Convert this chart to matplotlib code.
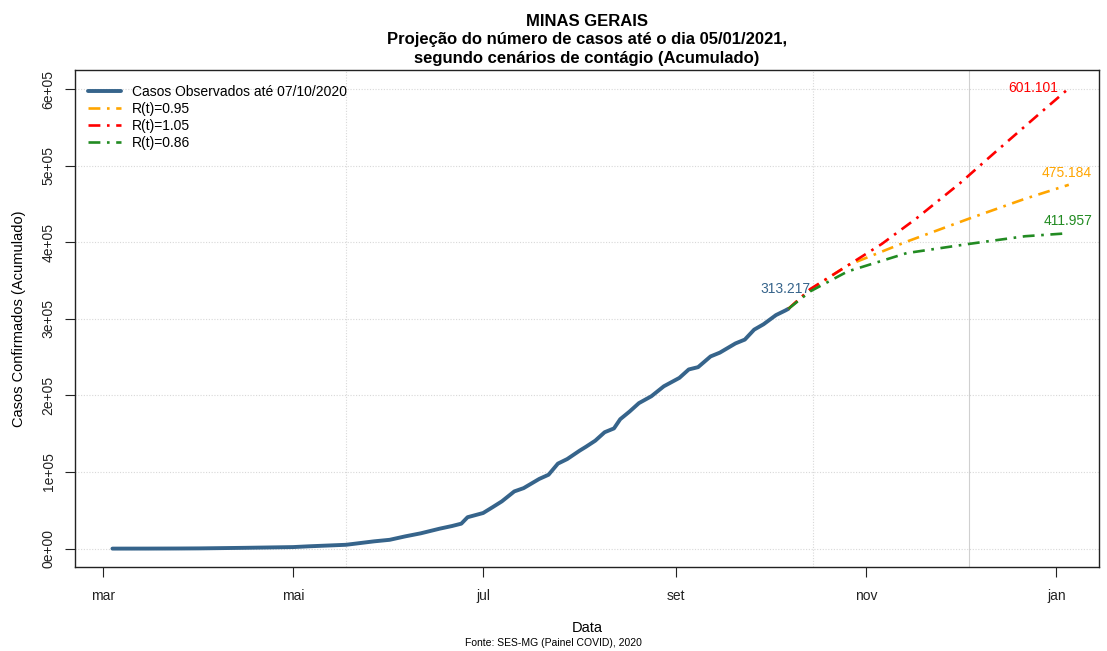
import pandas as pd
import matplotlib
matplotlib.use("Agg")
import matplotlib.pyplot as plt
from matplotlib.ticker import FuncFormatter

plt.rcParams['font.family'] = ['Liberation Sans', 'DejaVu Sans']

# casos observados (acumulado)
obs_dates = ["2020-03-04", "2020-03-15", "2020-03-25", "2020-04-01", "2020-04-15",
             "2020-05-01", "2020-05-06", "2020-05-18", "2020-05-27", "2020-06-01",
             "2020-06-06", "2020-06-11", "2020-06-17", "2020-06-21", "2020-06-24",
             "2020-06-26", "2020-07-01", "2020-07-04", "2020-07-07", "2020-07-11",
             "2020-07-14", "2020-07-19", "2020-07-22", "2020-07-25", "2020-07-28",
             "2020-08-01", "2020-08-03", "2020-08-06", "2020-08-09", "2020-08-12",
             "2020-08-14", "2020-08-17", "2020-08-20", "2020-08-24", "2020-08-28",
             "2020-09-02", "2020-09-05", "2020-09-08", "2020-09-12", "2020-09-15",
             "2020-09-20", "2020-09-23", "2020-09-26", "2020-09-29", "2020-10-03",
             "2020-10-06", "2020-10-07"]
obs_cases = [1, 40, 150, 300, 1000,
             2000, 3000, 5000, 9500, 11500,
             16000, 20000, 26000, 29500, 32600,
             41000, 46500, 54000, 61700, 74700,
             79000, 91000, 96500, 111000, 117000,
             128000, 133000, 141000, 152000, 157000,
             169000, 179000, 190000, 199000, 212000,
             223000, 234000, 237000, 251000, 256000,
             268000, 273000, 286000, 293000, 305000,
             311000, 313217]

# projecoes por cenario
red_dates = ["2020-10-07", "2020-10-14", "2020-10-23", "2020-11-06", "2020-11-17",
             "2020-12-01", "2020-12-13", "2020-12-26", "2021-01-05"]
red_cases = [313217, 339000, 362000, 398000, 431000, 477000, 520000, 566000, 601101]

orange_dates = ["2020-10-07", "2020-10-14", "2020-10-26", "2020-11-14", "2020-12-04",
                "2020-12-22", "2021-01-05"]
orange_cases = [313217, 338000, 370000, 401000, 431000, 457000, 475184]

green_dates = ["2020-10-07", "2020-10-14", "2020-10-26", "2020-11-14", "2020-12-04",
               "2020-12-22", "2021-01-05"]
green_cases = [313217, 336000, 362000, 386000, 398000, 408000, 411957]

month_ticks = ["2020-03-01", "2020-05-01", "2020-07-01", "2020-09-01", "2020-11-01", "2021-01-01"]
month_labels = ["mar", "mai", "jul", "set", "nov", "jan"]

def d(x):
    return pd.to_datetime(x)

fig = plt.figure(figsize=(11.07, 6.51), dpi=100)
ax = fig.add_axes([0.0678, 0.129, 0.925, 0.7635])

# grade
for yv in range(0, 700000, 100000):
    ax.axhline(yv, color="#d8d8d8", lw=0.8, ls=(0, (1, 1.5)), zorder=0)
ax.axvline(d("2020-05-18"), color="#d8d8d8", lw=0.8, ls=(0, (1, 1.5)), zorder=0)
ax.axvline(d("2020-10-15"), color="#d8d8d8", lw=0.8, ls=(0, (1, 1.5)), zorder=0)
ax.axvline(d("2020-12-04"), color="#d0d0d0", lw=0.8, zorder=0)

ax.plot(d(obs_dates), obs_cases, color="#36648B", lw=2.8,
        solid_capstyle="round", solid_joinstyle="round",
        label="Casos Observados até 07/10/2020", zorder=3)
dd = (0, (4.5, 2.5, 1, 2.5))
ax.plot(d(orange_dates), orange_cases, color="orange", lw=1.9, ls=dd, label="R(t)=0.95", zorder=3)
ax.plot(d(red_dates), red_cases, color="red", lw=1.9, ls=dd, label="R(t)=1.05", zorder=3)
ax.plot(d(green_dates), green_cases, color="#228B22", lw=1.9, ls=dd, label="R(t)=0.86", zorder=4)

# rotulos dos valores finais
ax.text(d("2020-10-14"), 339000, "313.217", color="#36648B", fontsize=10, ha="right", va="center")
ax.text(d("2021-01-01 14:00"), 601000, "601.101", color="red", fontsize=10, ha="right", va="center")
ax.text(d("2021-01-12 12:00"), 491000, "475.184", color="orange", fontsize=10, ha="right", va="center")
ax.text(d("2021-01-12 12:00"), 428000, "411.957", color="#228B22", fontsize=10, ha="right", va="center")

ax.set_xlim(d("2020-02-21"), d("2021-01-14 17:00"))
ax.set_ylim(-24044, 625145)

ax.set_xticks(d(month_ticks))
ax.set_xticklabels(month_labels)
ax.set_yticks(range(0, 700000, 100000))
ax.yaxis.set_major_formatter(FuncFormatter(lambda v, p: "%de+05" % round(v / 100000) if v else "0e+00"))
for lab in ax.get_yticklabels():
    lab.set_rotation(90)
    lab.set_va("center")
ax.tick_params(axis="both", direction="out", length=7, width=0.8, labelsize=10, colors="#222222")
ax.tick_params(axis="x", pad=9)
ax.tick_params(axis="y", pad=7)
for s in ax.spines.values():
    s.set_linewidth(1.0)
    s.set_color("#222222")

ax.set_xlabel("Data", fontsize=10.5, labelpad=13)
ax.set_ylabel("Casos Confirmados (Acumulado)", fontsize=10.5, labelpad=11)
ax.set_title("MINAS GERAIS\nProjeção do número de casos até o dia 05/01/2021,\n"
             "segundo cenários de contágio (Acumulado)",
             fontsize=12, fontweight="bold", linespacing=1.3, pad=5)
fig.text(0.5, 0.004, "Fonte: SES-MG (Painel COVID), 2020", fontsize=7.5, ha="center", va="bottom")

ax.legend(loc="upper left", frameon=False, fontsize=10, handlelength=2.4,
          labelspacing=0.22, borderaxespad=0.5, bbox_to_anchor=(0.0, 0.995))

fig.savefig("out.png", dpi=100)
